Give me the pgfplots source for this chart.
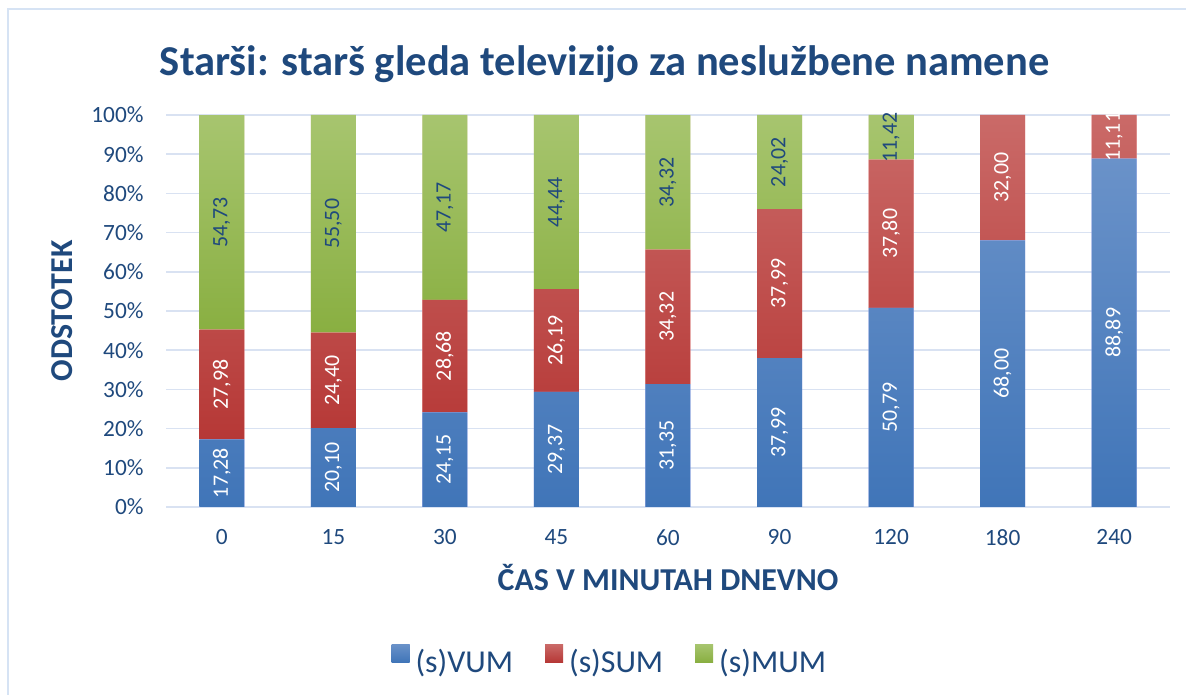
\documentclass[border=0pt]{standalone}
\usepackage{pgfplots}
\usepackage{pgfplotstable}
\pgfplotsset{compat=1.18}
\usepackage{fontspec}
\setmainfont{Carlito}
\definecolor{txt}{RGB}{31,73,125}
\definecolor{gridc}{RGB}{217,226,242}
\definecolor{framec}{RGB}{214,227,244}
\definecolor{bTop}{RGB}{106,146,201}
\definecolor{bBot}{RGB}{64,117,184}
\definecolor{rTop}{RGB}{202,106,104}
\definecolor{rBot}{RGB}{182,56,54}
\definecolor{gTop}{RGB}{167,197,111}
\definecolor{gBot}{RGB}{137,175,65}
\pgfplotstableread{
x v lo
0 17.28 0
1 20.10 0
2 24.15 0
3 29.37 0
4 31.35 0
5 37.99 0
6 50.79 0
7 68.00 0
8 88.89 0
}\tvum
\pgfplotstableread{
x v lo
0 27.98 17.28
1 24.40 20.10
2 28.68 24.15
3 26.19 29.37
4 34.32 31.35
5 37.99 37.99
6 37.80 50.79
7 32.00 68.00
8 11.11 88.89
}\tsum
\pgfplotstableread{
x v lo
0 54.73 45.26
1 55.50 44.50
2 47.17 52.83
3 44.44 55.56
4 34.32 65.67
5 24.02 75.98
6 11.42 88.59
}\tmum
\begin{document}
\begin{tikzpicture}[x=1bp,y=1bp]
\path[use as bounding box] (0,0) rectangle (1186,695);
\draw[framec, line width=2bp] (8,-10) rectangle (1200,686);
\begin{axis}[
  at={(166bp,188bp)}, anchor=south west,
  width=1004bp, height=392bp, scale only axis,
  ybar stacked, bar width=45bp,
  xmin=-0.5, xmax=8.5, ymin=0, ymax=100,
  xtick={0,...,8}, xticklabels={0,15,30,45,60,90,120,180,240},
  ytick={0,10,...,100},
  yticklabel={\pgfmathprintnumber{\tick}\%},
  /pgf/number format/assume math mode=true,
  ymajorgrids, grid style={gridc, line width=1.5bp},
  axis lines*=left,
  x axis line style={-, gridc, line width=1.5bp},
  y axis line style={draw=none},
  major tick length=0pt,
  tick label style={font=\fontsize{23.4}{28}\selectfont, text=txt},
  yticklabel style={xshift=-19bp},
  xticklabel style={yshift=-19bp},
  title={Starši: starš gleda televizijo za neslužbene namene},
  title style={at={(0.437,1.115)}, anchor=center, font=\fontsize{42.7}{50}\selectfont\bfseries, text=txt},
  xlabel={ČAS V MINUTAH DNEVNO},
  xlabel style={at={(0.5,-0.181)}, anchor=center, font=\fontsize{32}{38}\selectfont\bfseries, text=txt},
  ylabel={ODSTOTEK},
  ylabel style={at={(-0.1036,0.5)}, anchor=center, rotate=0, font=\fontsize{32}{38}\selectfont\bfseries, text=txt},
  legend style={at={(0.442,-0.39)}, anchor=center, legend columns=3, draw=none, font=\fontsize{32}{38}\selectfont, text=txt, /tikz/every even column/.append style={column sep=30bp}, /tikz/every odd column/.append style={column sep=4bp}},
  legend image code/.code={\path[#1, draw=none] (0bp,-1bp) rectangle (18bp,17bp);},
]
\addplot+[draw=none, top color=bTop, bottom color=bBot] table[x=x, y=v] {\tvum};
\addplot+[draw=none, top color=rTop, bottom color=rBot] table[x=x, y=v] {\tsum};
\addplot+[draw=none, top color=gTop, bottom color=gBot] table[x=x, y=v] {\tmum};
\legend{(s)VUM,(s)SUM,(s)MUM}
\end{axis}
\begin{axis}[
  at={(166bp,188bp)}, anchor=south west,
  width=1004bp, height=392bp, scale only axis,
  xmin=-0.5, xmax=8.5, ymin=0, ymax=100,
  hide axis, clip=false,
  /pgf/number format/assume math mode=true,
  point meta=explicit,
  nodes near coords={\pgfmathprintnumber[fixed,fixed zerofill,precision=2,use comma,assume math mode=true]{\pgfplotspointmeta}},
  nodes near coords align=center,
  every node near coord/.append style={rotate=90, anchor=center, inner sep=0pt, font=\fontsize{22}{26}\selectfont},
]
\addplot[draw=none, mark=none, every node near coord/.append style={text=white}] table[x=x, y expr=\thisrow{lo}+0.5*\thisrow{v}, meta=v] {\tvum};
\addplot[draw=none, mark=none, every node near coord/.append style={text=white}] table[x=x, y expr=\thisrow{lo}+0.5*\thisrow{v}, meta=v] {\tsum};
\addplot[draw=none, mark=none, every node near coord/.append style={text=txt}] table[x=x, y expr=\thisrow{lo}+0.5*\thisrow{v}, meta=v] {\tmum};
\end{axis}
\end{tikzpicture}
\end{document}
